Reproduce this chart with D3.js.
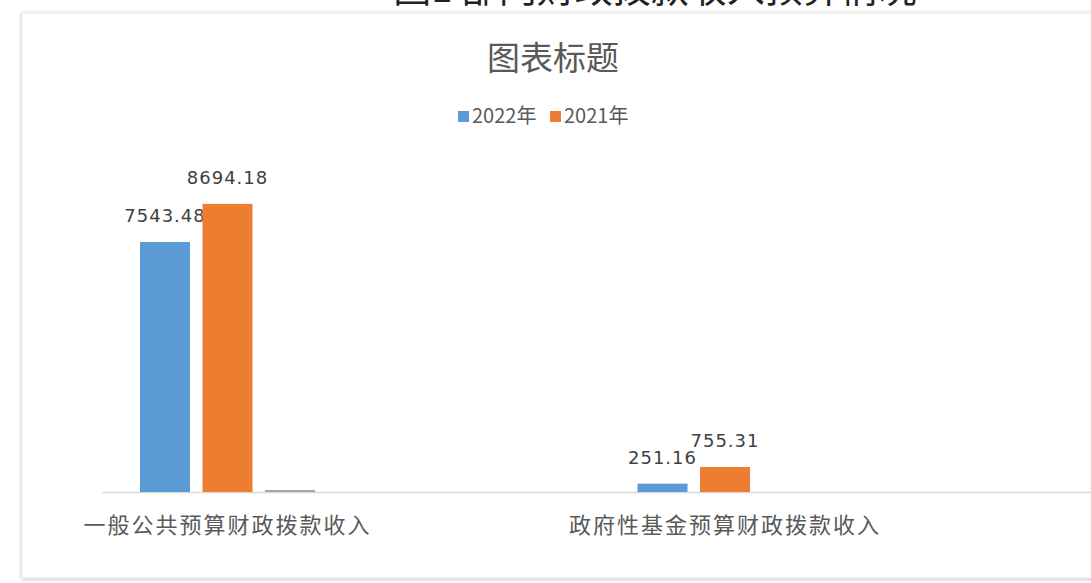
<!DOCTYPE html>
<html>
<head>
<meta charset="utf-8">
<script src="https://cdn.jsdelivr.net/npm/d3@7"></script>
<style>
  body { margin: 0; background: #fff; }
  svg { display: block; }
</style>
</head>
<body>
<div id="chart"></div>
<script>
// chart data
var categories = ["一般公共预算财政拨款收入", "政府性基金预算财政拨款收入"];
var seriesNames = ["2022年", "2021年", "其他"];
var values2022 = [7543.48, 251.16];
var values2021 = [8694.18, 755.31];
var valuesOther = [60, 0];
var legendNames = ["2022年", "2021年"];
var colors = ["#5b9bd5", "#ed7d31", "#a5a5a5"];

var width = 1091, height = 583;
var baseY = 492;
var cjk = "'Noto Sans CJK SC', 'Noto Sans', sans-serif";

var svg = d3.select("#chart").append("svg")
  .attr("width", width)
  .attr("height", height);

// caption above the frame, mostly cut off by the top edge like in the source image
svg.append("text")
  .attr("x", 655)
  .attr("y", 2)
  .attr("text-anchor", "middle")
  .style("font-family", cjk)
  .style("font-size", "38px")
  .style("fill", "#222")
  .text("图1 部门财政拨款收入预算情况");

// chart frame
var defs = svg.append("defs");
var f = defs.append("filter").attr("id", "sh").attr("x", "-5%").attr("y", "-5%").attr("width", "110%").attr("height", "110%");
f.append("feGaussianBlur").attr("in", "SourceAlpha").attr("stdDeviation", 2);
f.append("feOffset").attr("dy", 1).attr("result", "b");
f.append("feComponentTransfer").append("feFuncA").attr("type", "linear").attr("slope", 0.25);
var m = f.append("feMerge");
m.append("feMergeNode");
m.append("feMergeNode").attr("in", "SourceGraphic");

svg.append("rect")
  .attr("x", 22).attr("y", 13)
  .attr("width", 1100).attr("height", 565)
  .attr("fill", "#fff")
  .attr("stroke", "#e3e3e3")
  .attr("filter", "url(#sh)");

// scales
var x0 = d3.scalePoint().domain(categories).range([227.5, 725]);
var x1 = d3.scaleBand().domain(seriesNames).range([-87.5, 87.5]).paddingInner(0.2);
var y = d3.scaleLinear().domain([0, 10000]).range([baseY, baseY - 331.4]);

var seriesValues = [values2022, values2021, valuesOther];

// baseline
svg.append("line")
  .attr("x1", 102).attr("x2", width)
  .attr("y1", baseY + 0.5).attr("y2", baseY + 0.5)
  .attr("stroke", "#d9d9d9").attr("stroke-width", 1.5);

// bars
seriesNames.forEach(function(s, si) {
  var g = svg.append("g").attr("class", "series");
  g.selectAll("rect")
    .data(categories.map(function(c, i) { return {cat: c, v: seriesValues[si][i]}; }))
    .enter().append("rect")
    .attr("x", function(d) { return x0(d.cat) + x1(s); })
    .attr("y", function(d) { return y(d.v); })
    .attr("width", x1.bandwidth())
    .attr("height", function(d) { return baseY - y(d.v); })
    .attr("fill", colors[si]);

  if (si < 2) {
    g.selectAll("text")
      .data(categories.map(function(c, i) { return {cat: c, v: seriesValues[si][i]}; }))
      .enter().append("text")
      .attr("x", function(d) { return x0(d.cat) + x1(s) + x1.bandwidth() / 2; })
      .attr("y", function(d) { return y(d.v) - 20; })
      .attr("text-anchor", "middle")
      .style("font-family", "'DejaVu Sans', sans-serif")
      .style("font-size", "18px")
      .style("letter-spacing", "1px")
      .style("fill", "#404040")
      .text(function(d) { return d3.format(".2f")(d.v); });
  }
});

// category axis labels
svg.append("g").selectAll("text")
  .data(categories)
  .enter().append("text")
  .attr("x", function(d) { return x0(d); })
  .attr("y", 533)
  .attr("text-anchor", "middle")
  .style("font-family", cjk)
  .style("font-size", "22px")
  .style("letter-spacing", "2px")
  .style("fill", "#595959")
  .text(function(d) { return d; });

// title
svg.append("text")
  .attr("x", 553).attr("y", 70)
  .attr("text-anchor", "middle")
  .style("font-family", cjk)
  .style("font-size", "33px")
  .style("fill", "#595959")
  .text("图表标题");

// legend
var legX = [458, 550];
var leg = svg.append("g").selectAll("g")
  .data(legendNames)
  .enter().append("g")
  .attr("transform", function(d, i) { return "translate(" + legX[i] + ",111)"; });
leg.append("rect").attr("width", 11).attr("height", 11)
  .attr("fill", function(d, i) { return colors[i]; });
leg.append("text")
  .attr("x", 14).attr("y", 12)
  .style("font-family", cjk)
  .style("font-size", "20px")
  .style("fill", "#595959")
  .text(function(d) { return d; });
</script>
</body>
</html>
